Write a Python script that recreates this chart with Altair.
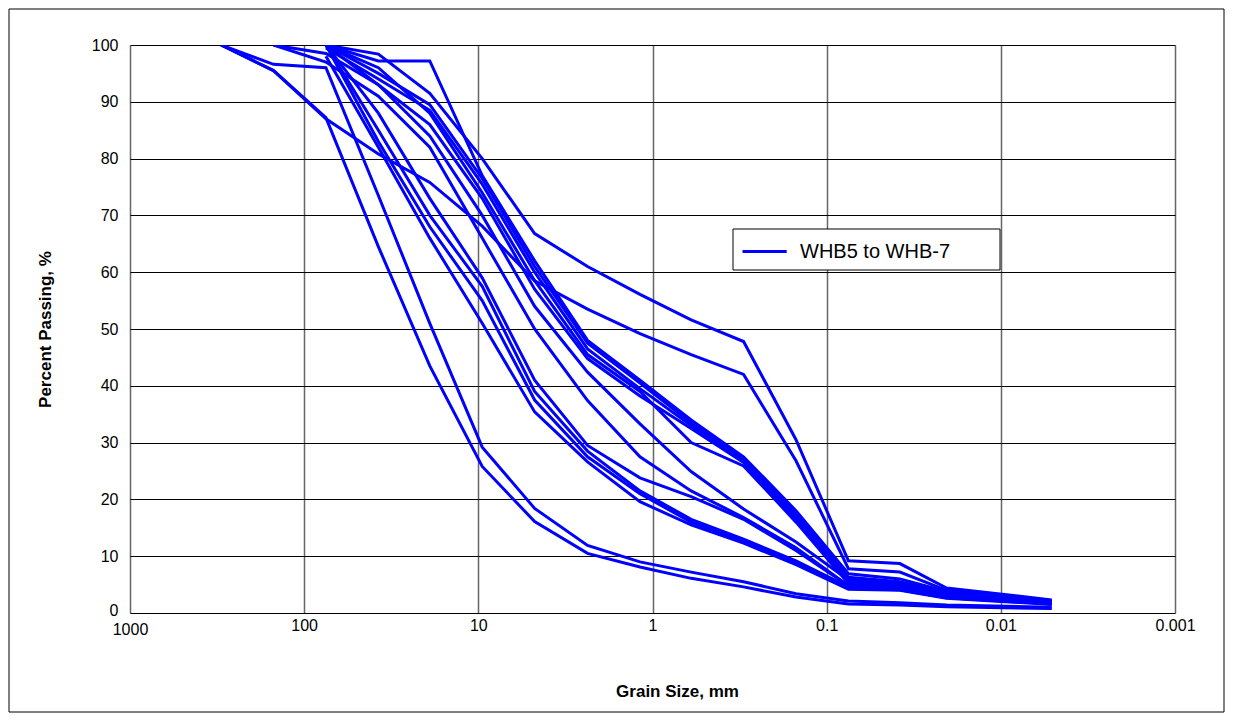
import altair as alt
import pandas as pd

# Sieve / hydrometer sizes (mm)
sizes = [300, 150, 75, 37.5, 19, 9.5, 4.75, 2.36, 1.18, 0.6, 0.3, 0.15, 0.075, 0.038, 0.0205, 0.0051]

# Percent passing for each sample (None = not tested at that size)
C1 = [100, 95.5, 87.2, 64.5, 43.5, 25.8, 16.1, 10.5, 8.1, 6.1, 4.6, 2.8, 1.6, 1.4, 1.1, 0.8]
C2 = [100, 96.6, 96.0, 73.5, 51.0, 29.2, 18.4, 11.9, 9.0, 7.2, 5.5, 3.4, 2.1, 1.8, 1.4, 1.0]
F2 = [100, 95.5, 87.0, 80.8, 75.8, 68.1, 58.5, 53.5, 49.2, 45.5, 42.0, 26.8, 7.8, 7.2, 4.0, 2.1]
F1 = [None, None, 100, 98.4, 91.5, 80.0, 66.8, 61.0, 56.1, 51.6, 47.8, 30.5, 9.2, 8.7, 4.4, 2.3]
S1 = [None, None, 100, 97.2, 97.2, 77.0, 62.0, 48.0, 41.0, 34.0, 27.5, 18.0, 6.9, 6.0, 3.8, 2.0]
M1 = [None, None, 100, 95.0, 89.5, 76.5, 61.0, 47.5, 40.5, 33.5, 27.2, 17.5, 6.3, 5.5, 3.6, 2.0]
M2 = [None, None, 99.5, 94.0, 88.5, 75.5, 60.0, 46.5, 39.5, 33.0, 27.0, 17.0, 5.8, 5.0, 3.4, 1.9]
M3 = [None, None, 100, 96.0, 88.0, 74.0, 58.5, 45.5, 39.0, 30.0, 25.9, 16.0, 5.2, 4.8, 3.2, 1.8]
M4 = [None, 100, 98.5, 93.0, 86.0, 73.0, 57.0, 44.8, 38.2, 32.5, 26.5, 16.5, 5.6, 5.2, 3.5, 1.9]
N1 = [None, None, 100, 93.0, 84.0, 70.0, 54.0, 42.4, 33.3, 24.9, 18.3, 12.5, 5.8, 5.3, 3.3, 1.8]
N2 = [None, 100, 97.0, 91.0, 82.0, 66.0, 50.0, 37.4, 27.5, 21.5, 16.8, 11.5, 4.8, 4.5, 2.9, 1.7]
N3 = [None, None, 100, 88.0, 73.0, 59.0, 41.0, 29.5, 23.8, 20.5, 16.5, 11.0, 4.8, 4.4, 2.9, 1.7]
L1 = [None, None, 100, 85.0, 70.0, 57.5, 39.0, 28.5, 21.5, 16.5, 13.0, 9.2, 4.6, 4.4, 3.0, 1.7]
L2 = [None, None, 100, 83.0, 68.0, 55.0, 37.5, 27.5, 21.0, 16.0, 12.6, 8.8, 4.3, 4.1, 2.7, 1.6]
L3 = [None, None, 98.0, 82.0, 66.0, 51.0, 35.4, 26.6, 19.6, 15.5, 12.3, 8.5, 4.2, 4.0, 2.6, 1.5]

samples = {"C1": C1, "C2": C2, "F2": F2, "F1": F1, "S1": S1, "M1": M1, "M2": M2,
           "M3": M3, "M4": M4, "N1": N1, "N2": N2, "N3": N3, "L1": L1, "L2": L2, "L3": L3}

x_ticks = [1000, 100, 10, 1, 0.1, 0.01, 0.001]
y_ticks = [0, 10, 20, 30, 40, 50, 60, 70, 80, 90, 100]
series_name = "WHB5 to WHB-7"

rows = []
for name, vals in samples.items():
    for i, (s, v) in enumerate(zip(sizes, vals)):
        if v is not None:
            rows.append({"sample": name, "size": s, "pct": v, "ord": i, "series": series_name})
df = pd.DataFrame(rows)

FONT = "Liberation Sans"

lines = alt.Chart(df).mark_line(strokeWidth=3, clip=True).encode(
    x=alt.X("size:Q",
            scale=alt.Scale(type="log", domain=[0.001, 1000], reverse=True, nice=False),
            axis=alt.Axis(values=x_ticks, format="~g", title="Grain Size, mm",
                          labelFontSize=16, labelFont=FONT, labelColor="black",
                          titleFont=FONT, titleFontSize=17, titleFontWeight="bold",
                          titleColor="black", titlePadding=46,
                          labelPadding={"condition": {"test": "datum.value == 1000", "value": 8},
                                        "value": 4},
                          titleX=547, titleAlign="center",
                          tickSize=0, domain=False, grid=True, gridColor="#666666",
                          gridWidth=1.5, labelFlush=False)),
    y=alt.Y("pct:Q",
            scale=alt.Scale(domain=[0, 100], nice=False),
            axis=alt.Axis(values=y_ticks, title="Percent Passing, %",
                          labelFontSize=16, labelFont=FONT, labelColor="black",
                          titleFont=FONT, titleFontSize=17, titleFontWeight="bold",
                          titleColor="black", titlePadding=37, labelPadding=12,
                          labelOffset={"condition": {"test": "datum.value == 0", "value": -3},
                                       "value": 0},
                          tickSize=0, domain=False, grid=True, gridColor="black",
                          gridWidth=1)),
    detail="sample:N",
    order="ord:Q",
    color=alt.Color("series:N",
                    scale=alt.Scale(range=["#0000FF"]),
                    legend=alt.Legend(title=None, orient="none", legendX=607, legendY=184,
                                      symbolType="M-1,0L1.6,0", symbolStrokeWidth=3,
                                      symbolFillColor="transparent", symbolStrokeColor="#0000FF",
                                      symbolSize=1156, labelFontSize=20, labelFont=FONT,
                                      labelColor="black", padding=4, labelOffset=22,
                                      labelLimit=500)),
)

# legend frame (white box with black border, drawn over the lines)
legend_box = alt.Chart(pd.DataFrame({"k": [0]})).mark_rect(
    fill="white", stroke="black", strokeWidth=1, clip=False
).encode(x=alt.value(603), x2=alt.value(870), y=alt.value(184), y2=alt.value(225))

# outer chart frame
frame = alt.Chart(pd.DataFrame({"k": [0]})).mark_rect(
    fill=None, stroke="black", strokeWidth=1, clip=False
).encode(x=alt.value(-121), x2=alt.value(1094), y=alt.value(-36), y2=alt.value(667))

chart = alt.layer(lines, legend_box, frame).properties(
    width=1045, height=568,
    autosize=alt.AutoSizeParams(type="none"),
    padding={"left": 122, "top": 37, "right": 50, "bottom": 100},
).configure_view(stroke="#808080", strokeWidth=1.5).configure(background="white")

chart.save("out.html", embed_options={"renderer": "svg", "actions": False})
